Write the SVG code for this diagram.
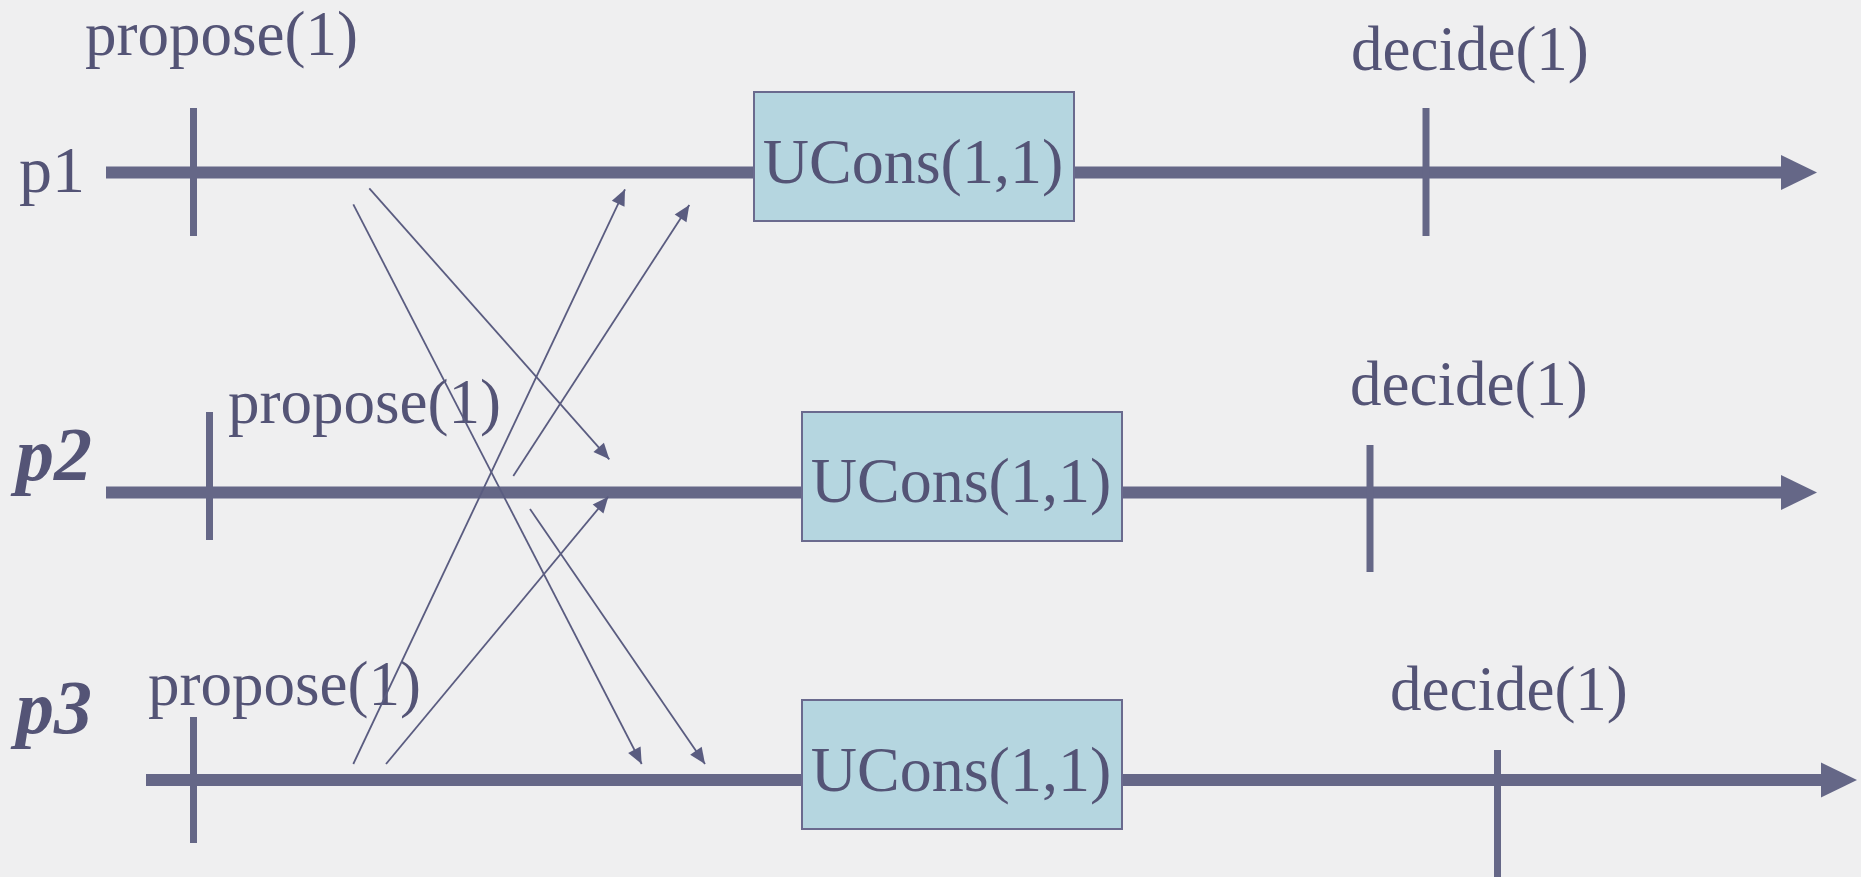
<svg xmlns="http://www.w3.org/2000/svg" width="1861" height="877" viewBox="0 0 1861 877">
<style>
.bg{fill:#efeff0}
.axis{stroke:#656787;stroke-width:12;fill:none}
.tick{stroke:#656787;stroke-width:7}
.msg{stroke:#5a5c80;stroke-width:1.8;fill:none}
.box{fill:#b5d6e0;stroke:#6a6a8e;stroke-width:2}
.t{font-family:"Liberation Serif","Times New Roman",serif;font-size:63px;fill:#545476}
.lab{font-family:"Liberation Serif","Times New Roman",serif;font-size:66px;fill:#545476}
.bx{font-family:"Liberation Serif","Times New Roman",serif;font-size:64px;fill:#545476;text-anchor:middle}
.pl{font-family:"Liberation Serif","Times New Roman",serif;font-size:76px;font-weight:bold;font-style:italic;fill:#545476}
</style>
<defs>
<marker id="big" markerUnits="userSpaceOnUse" markerWidth="40" markerHeight="40" viewBox="0 -20 40 40" refX="0" refY="0" orient="auto">
<path d="M0,-17.5 L36,0 L0,17.5 Z" fill="#656787"/>
</marker>
<marker id="small" markerUnits="userSpaceOnUse" markerWidth="20" markerHeight="20" viewBox="-18 -10 20 20" refX="0" refY="0" orient="auto">
<path d="M0,0 L-16,-7 L-16,7 Z" fill="#5a5c80"/>
</marker>
</defs>
<rect class="bg" x="0" y="0" width="1861" height="877"/>

<g id="p1">
<text class="lab" x="19" y="192">p1</text>
<line class="axis" x1="106" y1="172.5" x2="1781" y2="172.5" marker-end="url(#big)"/>
<line class="tick" x1="193.5" y1="108" x2="193.5" y2="236"/>
<text class="t" x="85" y="55">propose(1)</text>
<line class="tick" x1="1426" y1="108" x2="1426" y2="236"/>
<text class="t" x="1351" y="70">decide(1)</text>
</g>
<g id="p2">
<text class="pl" x="16" y="480">p2</text>
<line class="axis" x1="106" y1="492.5" x2="1781" y2="492.5" marker-end="url(#big)"/>
<line class="tick" x1="209.5" y1="412" x2="209.5" y2="540"/>
<text class="t" x="228" y="423">propose(1)</text>
<line class="tick" x1="1370" y1="445" x2="1370" y2="572"/>
<text class="t" x="1350" y="405">decide(1)</text>
</g>
<g id="p3">
<text class="pl" x="16" y="733">p3</text>
<line class="axis" x1="146" y1="780" x2="1821" y2="780" marker-end="url(#big)"/>
<line class="tick" x1="193.5" y1="717" x2="193.5" y2="843"/>
<text class="t" x="148" y="705">propose(1)</text>
<line class="tick" x1="1497.5" y1="750" x2="1497.5" y2="877"/>
<text class="t" x="1390" y="710">decide(1)</text>
</g>

<g id="ucons1">
<rect class="box" x="754" y="92" width="320" height="129"/>
<text class="bx" x="913" y="183">UCons(1,1)</text>
</g>
<g id="ucons2">
<rect class="box" x="802" y="412" width="320" height="129"/>
<text class="bx" x="961" y="502">UCons(1,1)</text>
</g>
<g id="ucons3">
<rect class="box" x="802" y="700" width="320" height="129"/>
<text class="bx" x="961" y="791">UCons(1,1)</text>
</g>

<g id="connectors">
<line class="msg" x1="369.3" y1="188.3" x2="609.3" y2="459.3" marker-end="url(#small)"/>
<line class="msg" x1="353.3" y1="204.3" x2="641.7" y2="764" marker-end="url(#small)"/>
<line class="msg" x1="353.3" y1="764" x2="625" y2="189.3" marker-end="url(#small)"/>
<line class="msg" x1="513.3" y1="476" x2="689.3" y2="205" marker-end="url(#small)"/>
<line class="msg" x1="386" y1="764" x2="608.3" y2="496.7" marker-end="url(#small)"/>
<line class="msg" x1="530" y1="509" x2="705" y2="764" marker-end="url(#small)"/>
</g>
</svg>
